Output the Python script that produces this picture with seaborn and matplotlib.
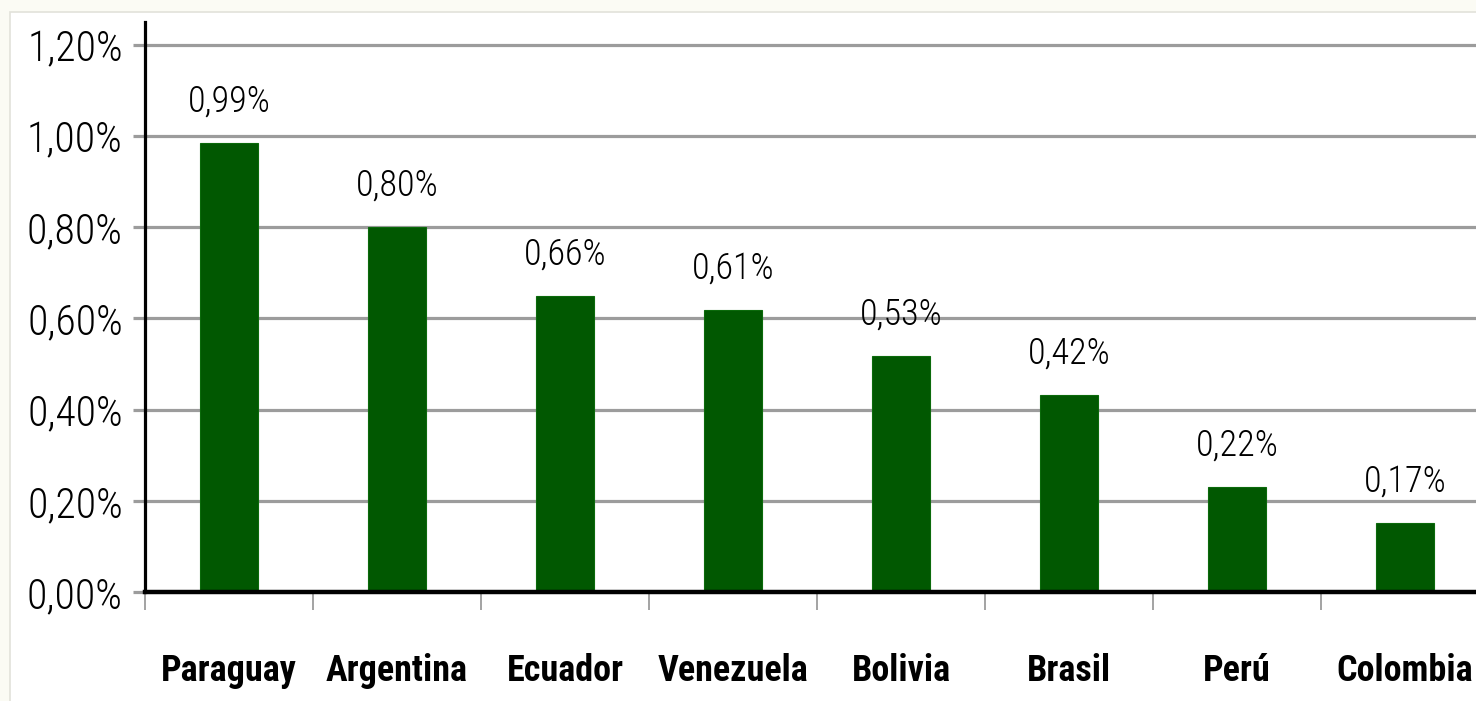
import matplotlib
matplotlib.use("Agg")
import matplotlib.pyplot as plt
import matplotlib.font_manager as fm
from matplotlib.patches import Rectangle
from matplotlib.ticker import FixedLocator, FuncFormatter
import seaborn as sns
import pandas as pd

countries = ["Paraguay", "Argentina", "Ecuador", "Venezuela", "Bolivia", "Brasil", "Perú", "Colombia"]
values = [0.985, 0.80, 0.649, 0.619, 0.518, 0.432, 0.23, 0.151]
labels = ["0,99%", "0,80%", "0,66%", "0,61%", "0,53%", "0,42%", "0,22%", "0,17%"]
yticks = [0.0, 0.2, 0.4, 0.6, 0.8, 1.0, 1.2]

sns.set_theme(style="white")
names = {f.name for f in fm.fontManager.ttflist}
fam = ["DejaVu Sans"]
stretch = "condensed"
for cand in ["Roboto Condensed", "Liberation Sans Narrow", "Open Sans Condensed", "Noto Sans Condensed"]:
    if cand in names:
        fam = [cand, "DejaVu Sans"]
        stretch = "normal"
        break
plt.rcParams["font.family"] = fam

fig = plt.figure(figsize=(14.76, 7.01), dpi=100)
fig.patch.set_facecolor("#fbfbf4")
fig.patches.append(Rectangle((10/1476, -0.01), 1.0, (701-12)/701 + 0.01, transform=fig.transFigure,
                             facecolor="white", edgecolor="#e2e2da", linewidth=1.2, zorder=-10))

ax = fig.add_axes([145/1476, 109/701, 1344/1476, 569.8/701])
ax.set_facecolor("white")
ax.patch.set_alpha(0)
df = pd.DataFrame({"country": countries, "value": values})
sns.barplot(data=df, x="country", y="value", color="#015801", saturation=1, width=0.34,
            ax=ax, zorder=3, edgecolor="#0b6a0b", linewidth=0.8)

ax.set_xlim(-0.5, 7.5)
ax.set_ylim(0, 1.25)
ax.set_xlabel("")
ax.set_ylabel("")
ax.yaxis.set_major_locator(FixedLocator(yticks))
ax.yaxis.set_major_formatter(FuncFormatter(lambda v, p: f"{v:.2f}".replace(".", ",") + "%"))
ax.grid(axis="y", color="#9c9c9c", linewidth=2.3, zorder=1)
ax.set_axisbelow(True)
ax.tick_params(axis="y", which="major", length=9, width=2.3, color="#9c9c9c", pad=7,
               labelsize=30, left=True, labelcolor="black")
for t in ax.get_yticklabels():
    t.set_fontstretch(stretch)
    t.set_fontweight("light")

ax.xaxis.set_minor_locator(FixedLocator([i - 0.5 for i in range(len(countries) + 1)]))
ax.tick_params(axis="x", which="major", length=0, pad=44, labelsize=26, labelcolor="black")
ax.tick_params(axis="x", which="minor", length=13, width=1.3, color="#9c9c9c", bottom=True)
for t in ax.get_xticklabels():
    t.set_fontweight("bold")
    t.set_fontstretch(stretch)

for s in ["top", "right"]:
    ax.spines[s].set_visible(False)
ax.spines["left"].set_linewidth(2.3)
ax.spines["left"].set_color("black")
ax.spines["bottom"].set_linewidth(3.2)
ax.spines["bottom"].set_color("black")
ax.spines["bottom"].set_zorder(5)

for i, (v, lab) in enumerate(zip(values, labels)):
    ax.annotate(lab, (i, v), xytext=(0, 17), textcoords="offset points", ha="center",
                va="bottom", fontsize=26, fontstretch=stretch, fontweight="light", color="black")

fig.savefig("out.png", dpi=100, facecolor=fig.get_facecolor())
